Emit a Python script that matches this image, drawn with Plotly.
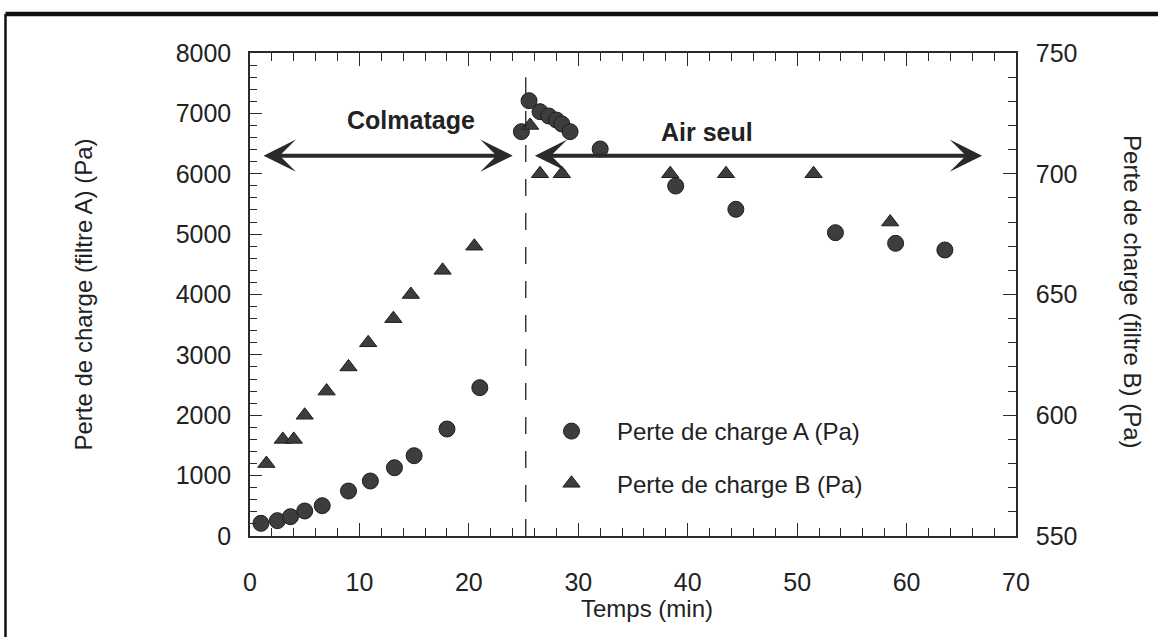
import plotly.graph_objects as go

# ---- data ----
time_a = [1.0, 2.5, 3.7, 5.0, 6.6, 9.0, 11.0, 13.2, 15.0, 18.0, 21.0,
          24.8, 25.5, 26.5, 27.3, 28.0, 28.5, 29.25, 32.0, 38.9, 44.4, 53.5, 59.0, 63.5]
perte_a = [210, 254, 320, 414, 502, 745, 911, 1131, 1330, 1772, 2457,
           6697, 7210, 7028, 6957, 6890, 6824, 6697, 6410, 5797, 5411, 5024, 4848, 4737]

time_b = [1.5, 3.0, 4.0, 5.0, 7.0, 9.0, 10.8, 13.1, 14.7, 17.6, 20.5,
          25.6, 26.5, 28.5, 38.4, 43.5, 51.5, 58.5]
perte_b = [580, 590, 590, 600, 610, 620, 630, 640, 650, 660, 670,
           720, 700, 700, 700, 700, 700, 680]

switch_time = 25.2          # dashed separator (min)
separator_top = 7600        # Pa (left axis)
arrow_level = 6300          # Pa (left axis)
colmatage_span = [1.1, 24.0]
air_span = [25.9, 66.9]
colmatage_label = (14.7, 6890)
air_label = (41.8, 6690)

FONT = "Liberation Sans, Arial, sans-serif"
INK = "#222222"
MARK = "#3d3d3d"

fig = go.Figure()
fig.add_trace(go.Scatter(
    x=time_a, y=perte_a, mode="markers", name="Perte de charge A (Pa)",
    legendgroup="a",
    marker=dict(symbol="circle", size=16, color=MARK, line=dict(color="#1e1e1e", width=1)),
    yaxis="y"))
fig.add_trace(go.Scatter(
    x=time_b, y=perte_b, mode="markers", name="Perte de charge B (Pa)",
    legendgroup="b",
    marker=dict(symbol="triangle-up", size=15, color=MARK, line=dict(color="#1e1e1e", width=1)),
    yaxis="y2"))

# dashed separator
fig.add_shape(type="line", xref="x", yref="y", x0=switch_time, x1=switch_time,
              y0=0, y1=separator_top, line=dict(color=INK, width=1.3, dash="17px,17px"))

# double arrows
for (xa, xb) in (colmatage_span, air_span):
    fig.add_annotation(x=xb, y=arrow_level, ax=xa, ay=arrow_level,
                       xref="x", yref="y", axref="x", ayref="y",
                       text="", showarrow=True, arrowside="end+start",
                       arrowhead=3, startarrowhead=3, arrowsize=1.35, startarrowsize=1.35,
                       arrowwidth=4, arrowcolor="#2a2a2a", standoff=0, startstandoff=0)

fig.add_annotation(x=colmatage_label[0], y=colmatage_label[1], xref="x", yref="y",
                   text="<b>Colmatage</b>", showarrow=False,
                   xanchor="center", yanchor="middle",
                   font=dict(family=FONT, size=25, color=INK))
fig.add_annotation(x=air_label[0], y=air_label[1], xref="x", yref="y",
                   text="<b>Air seul</b>", showarrow=False,
                   xanchor="center", yanchor="middle",
                   font=dict(family=FONT, size=25, color=INK))

# axis titles
fig.add_annotation(x=0.518, y=-0.150, xref="paper", yref="paper", text="Temps (min)",
                   xanchor="center", yanchor="middle",
                   showarrow=False, font=dict(family=FONT, size=24, color=INK))
fig.add_annotation(x=-0.218, y=0.50, xref="paper", yref="paper",
                   text="Perte de charge (filtre A) (Pa)", textangle=-90,
                   xanchor="center", yanchor="middle",
                   showarrow=False, font=dict(family=FONT, size=24, color=INK))
fig.add_annotation(x=1.1527, y=0.505, xref="paper", yref="paper",
                   text="Perte de charge (filtre B) (Pa)", textangle=90,
                   xanchor="center", yanchor="middle",
                   showarrow=False, font=dict(family=FONT, size=24, color=INK))

# outer frame (top and left edges visible)
fig.add_shape(type="line", xref="paper", yref="paper", x0=-0.3192, x1=1.25,
              y0=1.081, y1=1.081, line=dict(color="#111111", width=4.5))
fig.add_shape(type="line", xref="paper", yref="paper", x0=-0.3192, x1=-0.3192,
              y0=1.081, y1=-0.25, line=dict(color="#111111", width=2.5))

axis_common = dict(showgrid=False, zeroline=False, showline=True, linecolor="#2a2a2a",
                   linewidth=1.5, ticks="inside", tickcolor="#2a2a2a", tickwidth=1.2,
                   tickfont=dict(family=FONT, size=25, color=INK))

fig.update_layout(
    width=1158, height=637,
    margin=dict(l=250, r=142, t=53, b=101),
    paper_bgcolor="white", plot_bgcolor="white",
    showlegend=True,
    legend=dict(x=(526 - 250) / 766, y=(536 - 409) / 483, xanchor="left", yanchor="top",
                bgcolor="rgba(0,0,0,0)", borderwidth=0, tracegroupgap=18,
                itemwidth=81,
                font=dict(family=FONT, size=24, color=INK)),
    xaxis=dict(range=[0, 70], dtick=10, tick0=0, ticklen=13, mirror="ticks",
               ticklabelstandoff=23,
               minor=dict(dtick=2, ticks="inside", ticklen=8, tickcolor="#2a2a2a", tickwidth=1.2),
               **axis_common),
    yaxis=dict(range=[0, 8000], dtick=1000, tick0=0, ticklen=12,
               ticklabelstandoff=12,
               minor=dict(dtick=200, ticks="inside", ticklen=7, tickcolor="#2a2a2a", tickwidth=1.2),
               **axis_common),
    yaxis2=dict(range=[550, 750], dtick=50, tick0=550, ticklen=13, overlaying="y", side="right",
                ticklabelstandoff=13,
                minor=dict(dtick=10, ticks="inside", ticklen=8, tickcolor="#2a2a2a", tickwidth=1.2),
                **axis_common),
)

fig.write_html("out.html", config={"displayModeBar": False},
               post_script="document.body.style.margin='0';document.body.style.overflow='hidden';")
